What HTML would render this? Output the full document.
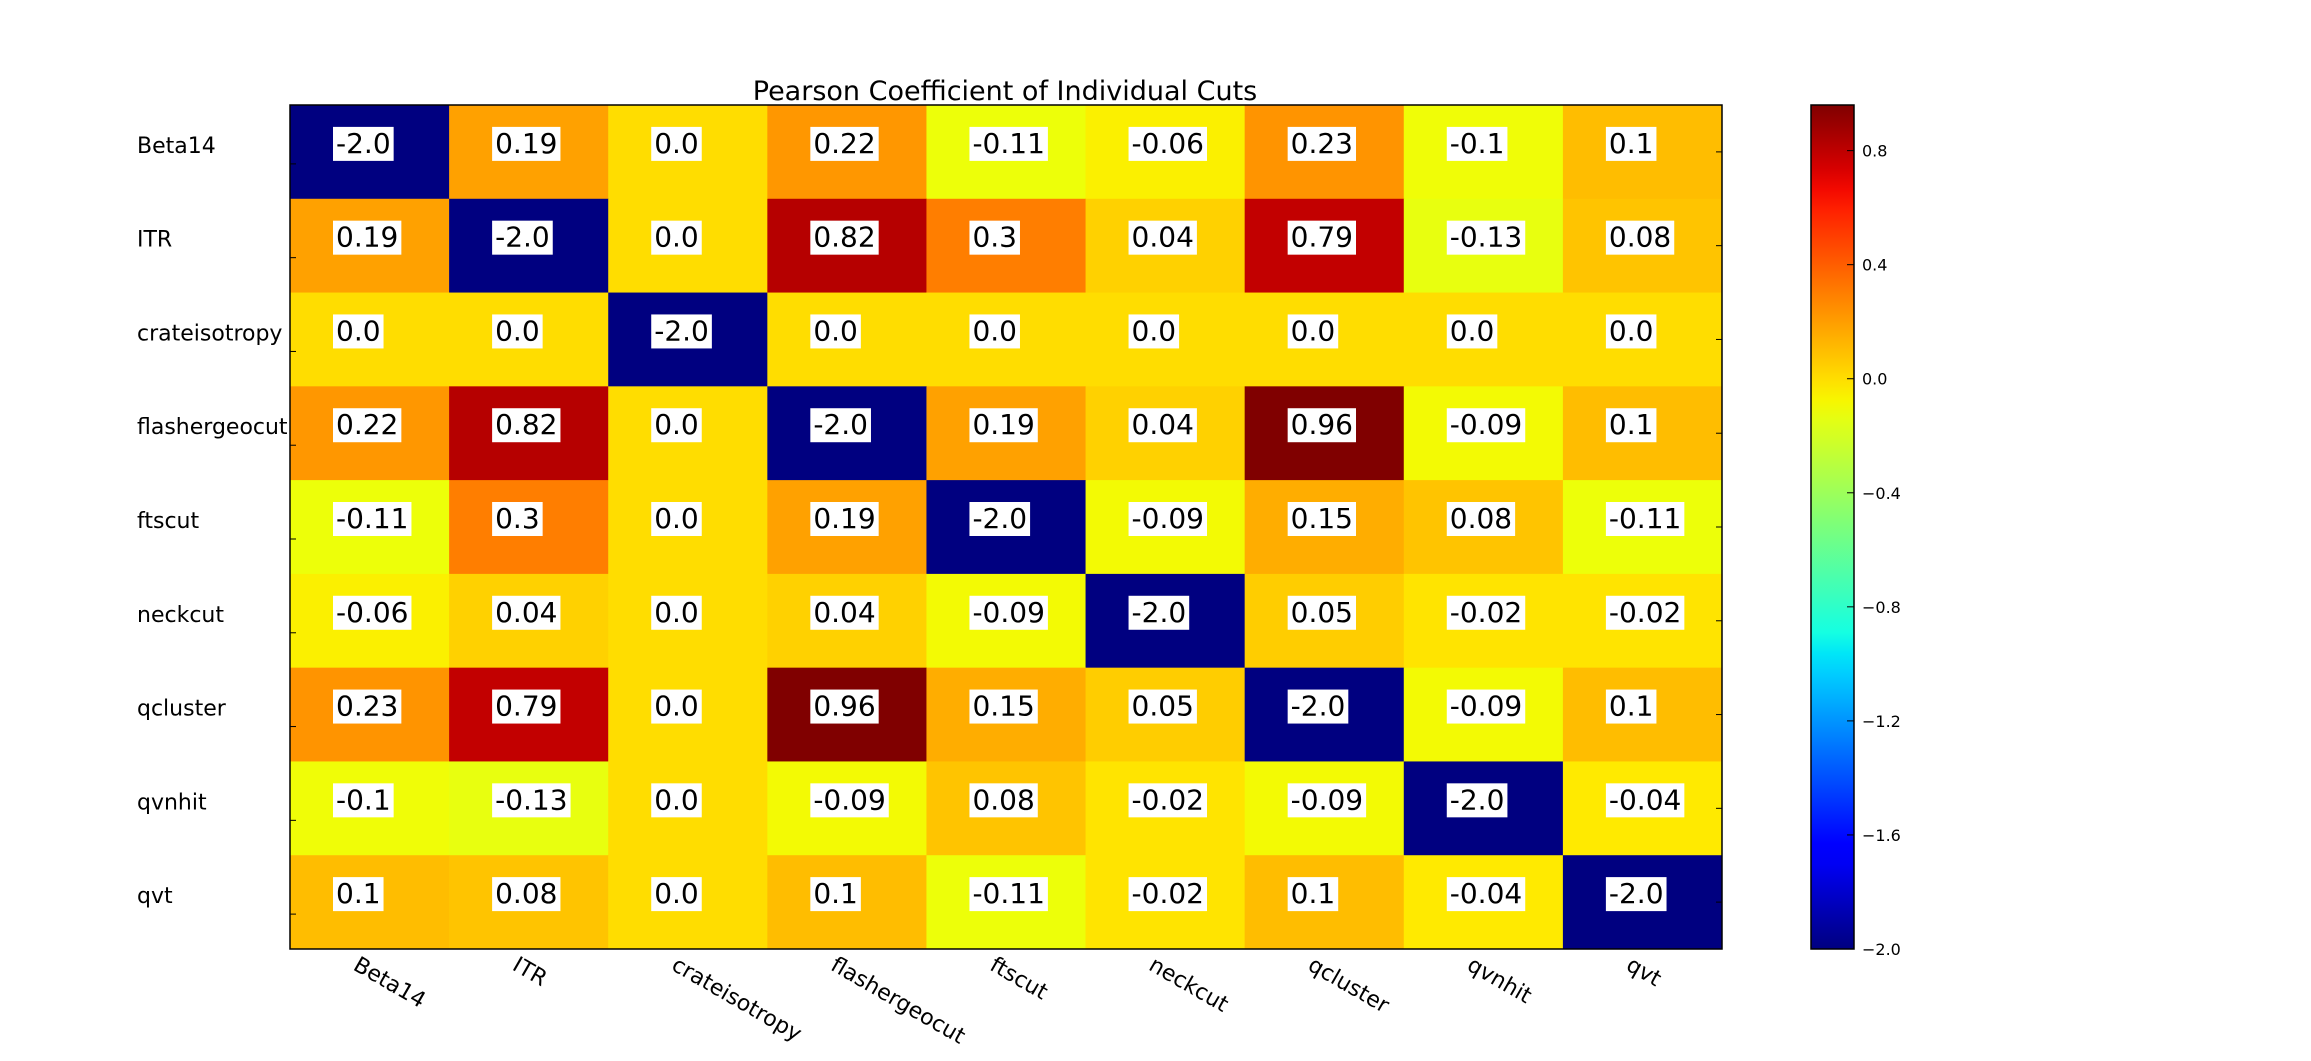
<!DOCTYPE html>
<html><head><meta charset="utf-8"><style>
body{margin:0;background:#fff;}
svg text{font-family:"DejaVu Sans","Liberation Sans",sans-serif;}
</style></head><body>
<svg id="chart" width="2311" height="1056" xmlns="http://www.w3.org/2000/svg">
<text x="1005" y="100" font-size="27" text-anchor="middle">Pearson Coefficient of Individual Cuts</text>
<g id="cells"></g><g id="labels"></g><g id="cbar"></g>
</svg>
<script>
const categories = ["Beta14","ITR","crateisotropy","flashergeocut","ftscut","neckcut","qcluster","qvnhit","qvt"];
const row0 = [-2.0,0.19,0.0,0.22,-0.11,-0.06,0.23,-0.1,0.1];
const row1 = [0.19,-2.0,0.0,0.82,0.3,0.04,0.79,-0.13,0.08];
const row2 = [0.0,0.0,-2.0,0.0,0.0,0.0,0.0,0.0,0.0];
const row3 = [0.22,0.82,0.0,-2.0,0.19,0.04,0.96,-0.09,0.1];
const row4 = [-0.11,0.3,0.0,0.19,-2.0,-0.09,0.15,0.08,-0.11];
const row5 = [-0.06,0.04,0.0,0.04,-0.09,-2.0,0.05,-0.02,-0.02];
const row6 = [0.23,0.79,0.0,0.96,0.15,0.05,-2.0,-0.09,0.1];
const row7 = [-0.1,-0.13,0.0,-0.09,0.08,-0.02,-0.09,-2.0,-0.04];
const row8 = [0.1,0.08,0.0,0.1,-0.11,-0.02,0.1,-0.04,-2.0];
const matrix = [row0,row1,row2,row3,row4,row5,row6,row7,row8];
const cbarTicks = [0.8,0.4,0.0,-0.4,-0.8,-1.2,-1.6,-2.0];
const vmin = -2.0, vmax = 0.96;

const NS="http://www.w3.org/2000/svg";
const X0=290,Y0=105,W=1432,H=844;
const cw=W/categories.length, ch=H/categories.length;
const xPos=j=>X0+j*cw, yPos=i=>Y0+i*ch;
const R=[[0,0],[0.35,0],[0.66,1],[0.89,1],[1,0.5]];
const G=[[0,0],[0.125,0],[0.375,1],[0.64,1],[0.91,0],[1,0]];
const B=[[0,0.5],[0.11,1],[0.34,1],[0.65,0],[1,0]];
function seg(s,t){for(let k=1;k<s.length;k++){if(t<=s[k][0]){const a=s[k-1],b=s[k];return a[1]+(b[1]-a[1])*(t-a[0])/(b[0]-a[0]);}}return s[s.length-1][1];}
function jet(v){
  let t=(v-vmin)/(vmax-vmin); t=Math.max(0,Math.min(1,t));
  const f=x=>Math.round(255*x);
  return `rgb(${f(seg(R,t))},${f(seg(G,t))},${f(seg(B,t))})`;
}
function mk(tag,attrs,parent){const e=document.createElementNS(NS,tag);for(const k in attrs)e.setAttribute(k,attrs[k]);parent.appendChild(e);return e;}
const cells=document.getElementById('cells'), labels=document.getElementById('labels'), cb=document.getElementById('cbar');
matrix.forEach((row,i)=>row.forEach((v,j)=>{
  const r=mk('rect',{x:xPos(j),y:yPos(i),width:cw+0.5,height:ch+0.5,fill:jet(v)},cells);
  
  
  const txt=String(Number.isInteger(v*10)?v.toFixed(1):v);
  const tx=xPos(j)+46, ty=yPos(i)+ch/2+1;
  const t=mk('text',{x:tx,y:ty,'font-size':28,fill:'#000'},cells);
  t.textContent=txt;
  
  
  const bb=t.getBBox();
  const bg=mk('rect',{x:bb.x-3,y:ty-26,width:bb.width+6,height:34,fill:'#fff'},cells);
  
  
  cells.appendChild(t);
}));
mk('rect',{x:X0,y:Y0,width:W,height:H,fill:'none',stroke:'#000','stroke-width':1.5},cells);
categories.forEach((c,i)=>{
  const t=mk('text',{x:137,y:yPos(i)+ch/2+1,'font-size':22},labels);
  t.textContent=c;
  
  
  mk('line',{x1:X0,x2:X0+6,y1:yPos(i)+ch/2+12,y2:yPos(i)+ch/2+12,stroke:'#000'},labels);
  mk('line',{x1:X0+W-6,x2:X0+W,y1:yPos(i)+ch/2,y2:yPos(i)+ch/2,stroke:'#000'},labels);
  const lx=xPos(i)+62, ly=Y0+H+20;
  const xt=mk('text',{x:lx,y:ly,'font-size':22,transform:`rotate(30 ${lx} ${ly})`},labels);
  xt.textContent=c;
  
  
});
const CX=1811,CW=43;
const cy=v=>Y0+H-(v-vmin)/(vmax-vmin)*H;
const grad=mk('linearGradient',{id:'jetg',x1:0,y1:1,x2:0,y2:0},mk('defs',{},cb));
for(let k=0;k<=40;k++){mk('stop',{offset:k/40,'stop-color':jet(vmin+k/40*(vmax-vmin))},grad);}
const bar=mk('rect',{x:CX,y:Y0,width:CW,height:H,fill:'url(#jetg)',stroke:'#000','stroke-width':1.5},cb);


cbarTicks.forEach(v=>{
  mk('line',{x1:CX+CW-7,x2:CX+CW,y1:cy(v),y2:cy(v),stroke:'#000'},cb);
  const t=mk('text',{x:CX+CW+8,y:cy(v)+6,'font-size':16},cb);
  t.textContent=(v<0?'\u2212':'')+Math.abs(v).toFixed(1);
  
  
});
</script>
</body></html>
